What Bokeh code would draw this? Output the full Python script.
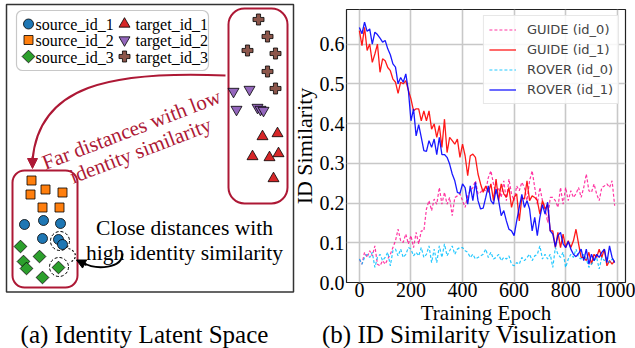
from bokeh.plotting import figure
from bokeh.models import (Range1d, Legend, LegendItem, Arrow, NormalHead,
                          FixedTicker, PrintfTickFormatter)
from bokeh.core.properties import value
from bokeh.embed import file_html
from bokeh.resources import INLINE

# ---------------- data: right panel (ID similarity curves) ----------------
epochs = list(range(0, 1000, 10))
guide_id0 = [0.059, 0.046, 0.076, 0.063, 0.080, 0.067, 0.092, 0.046, 0.042, 0.055,
             0.046, 0.059, 0.071, 0.088, 0.105, 0.134, 0.105, 0.101, 0.122, 0.097,
             0.118, 0.088, 0.126, 0.097, 0.130, 0.130, 0.185, 0.206, 0.181, 0.210,
             0.197, 0.239, 0.197, 0.227, 0.197, 0.214, 0.168, 0.214, 0.218, 0.223,
             0.206, 0.189, 0.218, 0.231, 0.239, 0.256, 0.223, 0.227, 0.235, 0.231,
             0.264, 0.281, 0.248, 0.223, 0.239, 0.214, 0.256, 0.206, 0.260, 0.223,
             0.206, 0.243, 0.231, 0.252, 0.239, 0.206, 0.256, 0.281, 0.239, 0.197,
             0.239, 0.206, 0.189, 0.151, 0.214, 0.214, 0.206, 0.189, 0.239, 0.197,
             0.239, 0.206, 0.231, 0.214, 0.223, 0.239, 0.214, 0.239, 0.273, 0.231,
             0.227, 0.248, 0.223, 0.206, 0.239, 0.243, 0.248, 0.239, 0.256, 0.193]
guide_id1 = [0.634, 0.596, 0.642, 0.584, 0.600, 0.554, 0.575, 0.600, 0.529, 0.563,
             0.558, 0.541, 0.533, 0.512, 0.504, 0.476, 0.504, 0.500, 0.508, 0.483,
             0.462, 0.432, 0.437, 0.437, 0.407, 0.432, 0.407, 0.432, 0.386, 0.399,
             0.365, 0.395, 0.340, 0.411, 0.327, 0.365, 0.357, 0.348, 0.361, 0.315,
             0.348, 0.319, 0.269, 0.319, 0.323, 0.315, 0.273, 0.248, 0.227, 0.243,
             0.227, 0.248, 0.206, 0.260, 0.206, 0.248, 0.223, 0.214, 0.239, 0.189,
             0.214, 0.223, 0.155, 0.214, 0.210, 0.256, 0.206, 0.218, 0.214, 0.206,
             0.172, 0.206, 0.185, 0.197, 0.130, 0.130, 0.088, 0.126, 0.088, 0.122,
             0.088, 0.105, 0.088, 0.105, 0.134, 0.097, 0.063, 0.063, 0.055, 0.076,
             0.046, 0.071, 0.063, 0.084, 0.063, 0.084, 0.042, 0.055, 0.046, 0.055]
rover_id0 = [0.059, 0.046, 0.063, 0.071, 0.063, 0.076, 0.038, 0.063, 0.071, 0.055,
             0.063, 0.076, 0.042, 0.080, 0.084, 0.067, 0.084, 0.063, 0.071, 0.088,
             0.084, 0.067, 0.076, 0.067, 0.088, 0.063, 0.071, 0.092, 0.050, 0.084,
             0.050, 0.092, 0.063, 0.097, 0.067, 0.080, 0.092, 0.071, 0.084, 0.088,
             0.088, 0.080, 0.076, 0.063, 0.071, 0.059, 0.063, 0.067, 0.071, 0.084,
             0.063, 0.076, 0.059, 0.063, 0.071, 0.055, 0.063, 0.059, 0.067, 0.046,
             0.042, 0.050, 0.046, 0.063, 0.055, 0.063, 0.071, 0.055, 0.067, 0.071,
             0.092, 0.059, 0.071, 0.059, 0.071, 0.038, 0.088, 0.071, 0.063, 0.076,
             0.038, 0.059, 0.071, 0.063, 0.084, 0.063, 0.059, 0.071, 0.059, 0.038,
             0.046, 0.055, 0.063, 0.034, 0.063, 0.055, 0.063, 0.050, 0.059, 0.055]
rover_id1 = [0.642, 0.626, 0.655, 0.632, 0.638, 0.600, 0.630, 0.624, 0.615, 0.605,
             0.609, 0.588, 0.573, 0.550, 0.542, 0.500, 0.516, 0.504, 0.525, 0.483,
             0.407, 0.437, 0.369, 0.397, 0.365, 0.332, 0.330, 0.357, 0.340, 0.361,
             0.322, 0.365, 0.322, 0.322, 0.315, 0.298, 0.273, 0.256, 0.227, 0.224,
             0.248, 0.239, 0.197, 0.243, 0.206, 0.252, 0.206, 0.185, 0.187, 0.214,
             0.243, 0.206, 0.197, 0.235, 0.206, 0.168, 0.181, 0.155, 0.134, 0.130,
             0.118, 0.155, 0.189, 0.222, 0.189, 0.206, 0.185, 0.130, 0.164, 0.118,
             0.164, 0.196, 0.172, 0.202, 0.130, 0.122, 0.090, 0.118, 0.126, 0.097,
             0.088, 0.103, 0.084, 0.071, 0.065, 0.073, 0.084, 0.055, 0.084, 0.046,
             0.071, 0.055, 0.071, 0.063, 0.076, 0.084, 0.050, 0.092, 0.063, 0.050]
series_labels = ["GUIDE (id_0)", "GUIDE (id_1)", "ROVER (id_0)", "ROVER (id_1)"]
x_ticks = [0, 200, 400, 600, 800, 1000]
y_ticks = [0.0, 0.1, 0.2, 0.3, 0.4, 0.5, 0.6]

# ---------------- data: left panel (latent space sketch) ----------------
src1_x = [24, 43, 60, 42, 58, 62]
src1_y = [224, 220, 223, 238, 239, 244]
src2_x = [31, 30, 45, 62, 42, 59]
src2_y = [180, 194, 189, 192, 207, 207]
src3_x = [20, 39, 23, 26, 58, 42]
src3_y = [246, 256, 261, 268, 267, 277]
tgt1_x = [262, 277, 252, 269, 278, 273]
tgt1_y = [136, 133, 156, 157, 153, 178]
tgt2_x = [233, 249, 236, 257, 260, 263]
tgt2_y = [91, 89, 109, 107, 109, 110]
tgt3_x = [258, 267, 247, 275, 267, 275]
tgt3_y = [19, 36, 50, 53, 71, 88]
legend_labels = ["source_id_1", "source_id_2", "source_id_3",
                 "target_id_1", "target_id_2", "target_id_3"]
captions = ["(a) Identity Latent Space", "(b) ID Similarity Visulization"]

C_BLUE, C_ORANGE, C_GREEN = "#1f77b4", "#ff7f0e", "#2ca02c"
C_RED, C_PURPLE, C_BROWN = "#d62728", "#9467bd", "#8c564b"
DARKRED = "#ad1835"
SERIF = value("Liberation Serif")

# ================= left panel (page pixel coordinates) =================
p1 = figure(width=296, height=300, x_range=Range1d(0, 296), y_range=Range1d(300, 0),
            x_axis_type=None, y_axis_type=None, toolbar_location=None,
            output_backend="svg", min_border=0)
p1.styles = {"position": "absolute", "left": "0px", "top": "0px"}
p1.outline_line_color = None
p1.background_fill_color = "white"
p1.border_fill_color = "white"

p1.quad(left=[6], right=[293], top=[4], bottom=[291.5], fill_color=None,
        line_color="#333333", line_width=1.5)
p1.quad(left=[16], right=[208], top=[10], bottom=[70], fill_color="white",
        line_color="#c8c8c8", line_width=1.2, border_radius=6)
p1.quad(left=[228], right=[287], top=[8], bottom=[203], fill_color=None,
        line_color=DARKRED, line_width=2, border_radius=16)
p1.quad(left=[12], right=[77], top=[170], bottom=[287], fill_color=None,
        line_color=DARKRED, line_width=2, border_radius=12)

def pts(x, y, marker, color, size, angle=0.0):
    p1.scatter(x, y, marker=marker, size=size, fill_color=color, line_color="black",
               line_width=0.8, angle=angle)

pts(src2_x, src2_y, "square", C_ORANGE, 9)
pts(src1_x, src1_y, "circle", C_BLUE, 10)
pts(src3_x, src3_y, "square", C_GREEN, 9, angle=0.785398)
pts(tgt1_x, tgt1_y, "triangle", C_RED, 11)
pts(tgt2_x, tgt2_y, "inverted_triangle", C_PURPLE, 11)
pts(tgt3_x, tgt3_y, "plus", C_BROWN, 11)

pts([28], [23.5], "circle", C_BLUE, 10)
pts([28], [39.5], "square", C_ORANGE, 9)
pts([28], [56], "square", C_GREEN, 9, angle=0.785398)
pts([124], [23.5], "triangle", C_RED, 11)
pts([124], [39.5], "inverted_triangle", C_PURPLE, 11)
pts([124], [56], "plus", C_BROWN, 11)
p1.text(x=[35, 35, 35, 135, 135, 135], y=[24, 40, 56.5, 24, 40, 56.5],
        text=legend_labels, text_font=SERIF, text_font_size="16px",
        text_align="left", text_baseline="middle", text_color="black")

p1.scatter([59.5, 58.5], [240.5, 266.5], marker="circle", size=19, fill_color=None,
           line_color="black", line_dash="3 2", line_width=1)
p1.bezier(x0=[68], y0=[248], x1=[69], y1=[262], cx0=[77], cy0=[251], cx1=[77], cy1=[259],
          line_color="black", line_dash="2 2", line_width=1.2)

p1.bezier(x0=[225], y0=[75], x1=[32], y1=[160], cx0=[110], cy0=[70], cx1=[38], cy1=[85],
          line_color=DARKRED, line_width=2)
p1.add_layout(Arrow(end=NormalHead(size=10, fill_color=DARKRED, line_color=DARKRED),
                    x_start=32, y_start=156, x_end=32, y_end=168,
                    line_color=DARKRED, line_width=2))

p1.bezier(x0=[122], y0=[253], x1=[82], y1=[262], cx0=[122], cy0=[268], cx1=[96], cy1=[270],
          line_color="black", line_width=2)
p1.add_layout(Arrow(end=NormalHead(size=9, fill_color="black", line_color="black"),
                    x_start=86, y_start=264.5, x_end=76, y_end=259.5,
                    line_color="black", line_width=2))

p1.text(x=[131, 140], y=[129, 150], text=["Far distances with low", "identity similarity"],
        text_font=SERIF, text_font_size="21px", text_color=DARKRED,
        angle=21, angle_units="deg", text_align="center", text_baseline="alphabetic")
p1.text(x=[184, 184], y=[227, 252],
        text=["Close distances with", "high identity similarity"],
        text_font=SERIF, text_font_size="21.5px", text_color="black",
        text_align="center", text_baseline="alphabetic")

# ================= right panel =================
p2 = figure(width=353, height=334, x_range=Range1d(-50, 1032), y_range=Range1d(0, 0.687),
            toolbar_location=None, output_backend="svg",
            min_border_left=64, min_border_right=10, min_border_top=9, min_border_bottom=52)
p2.styles = {"position": "absolute", "left": "282px", "top": "0px"}
p2.outline_line_color = "#222222"
p2.outline_line_width = 1.2
p2.background_fill_color = "white"
p2.border_fill_color = None

r0 = p2.line(epochs, guide_id0, line_color="#ff1493", line_dash="3 2", line_width=1.2, line_alpha=0.85)
r1 = p2.line(epochs, guide_id1, line_color="#ff0000", line_width=1.3, line_alpha=0.9)
r2 = p2.line(epochs, rover_id0, line_color="#00bfff", line_dash="3 2", line_width=1.2, line_alpha=0.85)
r3 = p2.line(epochs, rover_id1, line_color="#0000ff", line_width=1.3, line_alpha=0.9)

p2.xaxis.ticker = FixedTicker(ticks=x_ticks)
p2.yaxis.ticker = FixedTicker(ticks=y_ticks)
p2.yaxis.formatter = PrintfTickFormatter(format="%.1f")
for ax in (p2.xaxis[0], p2.yaxis[0]):
    ax.axis_line_color = None
    ax.major_tick_out = 0
    ax.major_tick_in = 0
    ax.minor_tick_out = 0
    ax.minor_tick_in = 0
    ax.major_label_text_font = "Liberation Serif"
    ax.major_label_text_font_size = "20px"
    ax.major_label_text_color = "black"
    ax.axis_label_text_font = "Liberation Serif"
    ax.axis_label_text_font_style = "normal"
    ax.axis_label_text_color = "black"
p2.xaxis.axis_label = "Training Epoch"
p2.xaxis.axis_label_text_font_size = "21px"
p2.xaxis.major_label_standoff = 0
p2.xaxis.axis_label_standoff = 1
p2.yaxis.axis_label = "ID Similarity"
p2.yaxis.axis_label_text_font_size = "22px"
p2.yaxis.major_label_standoff = 2
p2.yaxis.axis_label_standoff = 0
p2.grid.grid_line_color = "#c8c8c8"
p2.grid.grid_line_width = 1.6

legend = Legend(items=[LegendItem(label=series_labels[i], renderers=[r])
                       for i, r in enumerate([r0, r1, r2, r3])],
                location="top_right")
legend.margin = 6
legend.padding = 5
legend.spacing = 3
legend.glyph_width = 27
legend.glyph_height = 17
legend.label_height = 17
legend.label_standoff = 11
legend.label_text_font = "DejaVu Sans"
legend.label_text_font_size = "13px"
legend.border_line_color = "#d0d0d0"
legend.border_line_width = 1
legend.background_fill_alpha = 0.85
p2.add_layout(legend)

# ================= captions (page pixel coordinates) =================
p3 = figure(width=635, height=48, x_range=Range1d(0, 635), y_range=Range1d(348, 300),
            x_axis_type=None, y_axis_type=None, toolbar_location=None,
            output_backend="svg", min_border=0)
p3.styles = {"position": "absolute", "left": "0px", "top": "300px"}
p3.outline_line_color = None
p3.background_fill_color = None
p3.border_fill_color = None
p3.text(x=[144, 469], y=[333.5, 333.5], text=captions,
        text_font=SERIF, text_font_size="25px", text_color="black",
        text_align="center", text_baseline="alphabetic")

open("out.html", "w").write(file_html([p1, p2, p3], INLINE))
